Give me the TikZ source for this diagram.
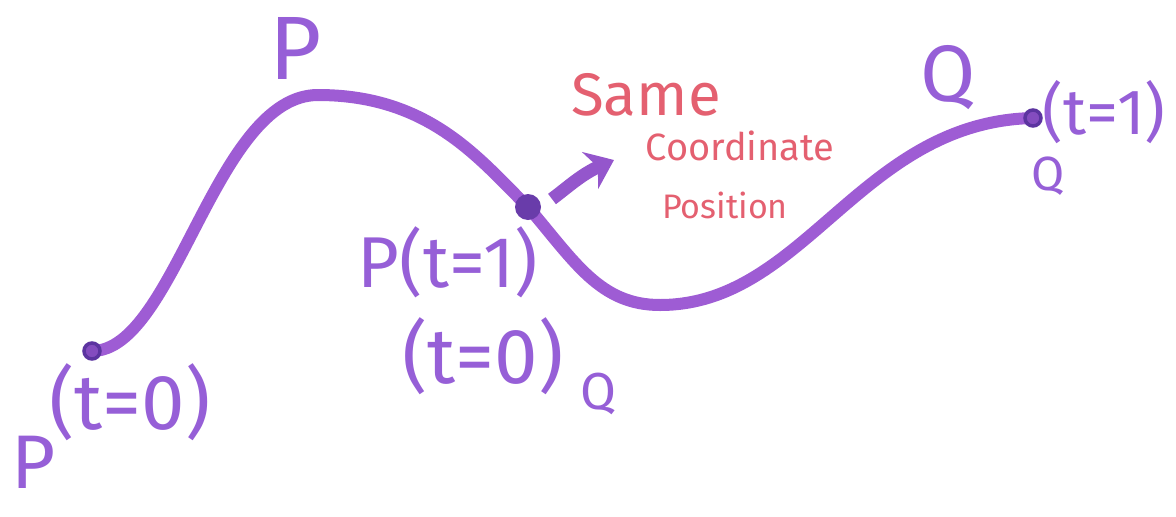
\documentclass[tikz,border=0pt]{standalone}
\usepackage{fontspec}
\setmainfont{Fira Sans}
\usetikzlibrary{arrows.meta}
\definecolor{curvepurple}{RGB}{158,92,212}
\definecolor{dotpurple}{RGB}{92,52,160}
\definecolor{labelpurple}{RGB}{150,95,215}
\definecolor{notered}{RGB}{228,96,112}
\tikzset{
  curveline/.style={draw=curvepurple,line width=12pt,line cap=round},
  enddot/.style={circle,draw=dotpurple,fill=curvepurple!60!dotpurple,line width=3.5pt,minimum size=16pt,inner sep=0pt},
  middot/.style={circle,fill=dotpurple!80!curvepurple,minimum size=26pt,inner sep=0pt},
  plabel/.style={text=labelpurple,inner sep=0pt},
  rlabel/.style={text=notered,inner sep=0pt},
  pointer/.style={draw=curvepurple!85!dotpurple,line width=13pt,-{Stealth[length=26pt,width=40pt]}}
}
\begin{document}
\begin{tikzpicture}[x=1pt,y=-1pt]
\useasboundingbox (0,0) rectangle (1176,517);
% points
\coordinate (s) at (92,351);
\coordinate (h) at (318,95);
\coordinate (m) at (528,207);
\coordinate (tr) at (660,305);
\coordinate (e) at (1033,118);
% curve
\draw[curveline] (s) .. controls (175,351) and (215,95) .. (h)
  .. controls (430,95) and (480,160) .. (m)
  .. controls (575,262) and (600,305) .. (tr)
  .. controls (805,305) and (860,122) .. (e);
% dots
\node[enddot] (sd) at (s) {};
\node[middot] (md) at (m) {};
\node[enddot] (ed) at (e) {};
% arrow
\coordinate (a1) at (552,199);
\coordinate (a2) at (614,160);
\draw[pointer] (a1) .. controls (568,187) and (582,174) .. (a2);
% labels
\node[plabel,font=\fontsize{90}{90}\selectfont] (ptop) at (296,48) {P};
\node[plabel,font=\fontsize{80}{80}\selectfont] (qtop) at (948,78) {Q};
\node[plabel,font=\fontsize{64}{64}\selectfont] (qt1) at (1104,112) {(t=1)};
\node[plabel,font=\fontsize{48}{48}\selectfont] (qr) at (1048,176) {Q};
\node[plabel,font=\fontsize{72}{72}\selectfont] (pt1) at (448,262) {P(t=1)};
\node[plabel,font=\fontsize{78}{78}\selectfont] (qt0) at (483,356) {(t=0)};
\node[plabel,font=\fontsize{52}{52}\selectfont] (qm) at (598,394) {Q};
\node[plabel,font=\fontsize{78}{78}\selectfont] (pt0) at (130,402) {(t=0)};
\node[plabel,font=\fontsize{76}{76}\selectfont] (pl) at (34,462) {P};
% red note
\node[rlabel,font=\fontsize{60}{60}\selectfont] (same) at (646,95) {Same};
\node[rlabel,font=\fontsize{38}{38}\selectfont] (coord) at (740,146) {Coordinate};
\node[rlabel,font=\fontsize{34}{34}\selectfont] (pos) at (725,205) {Position};
\end{tikzpicture}
\end{document}
